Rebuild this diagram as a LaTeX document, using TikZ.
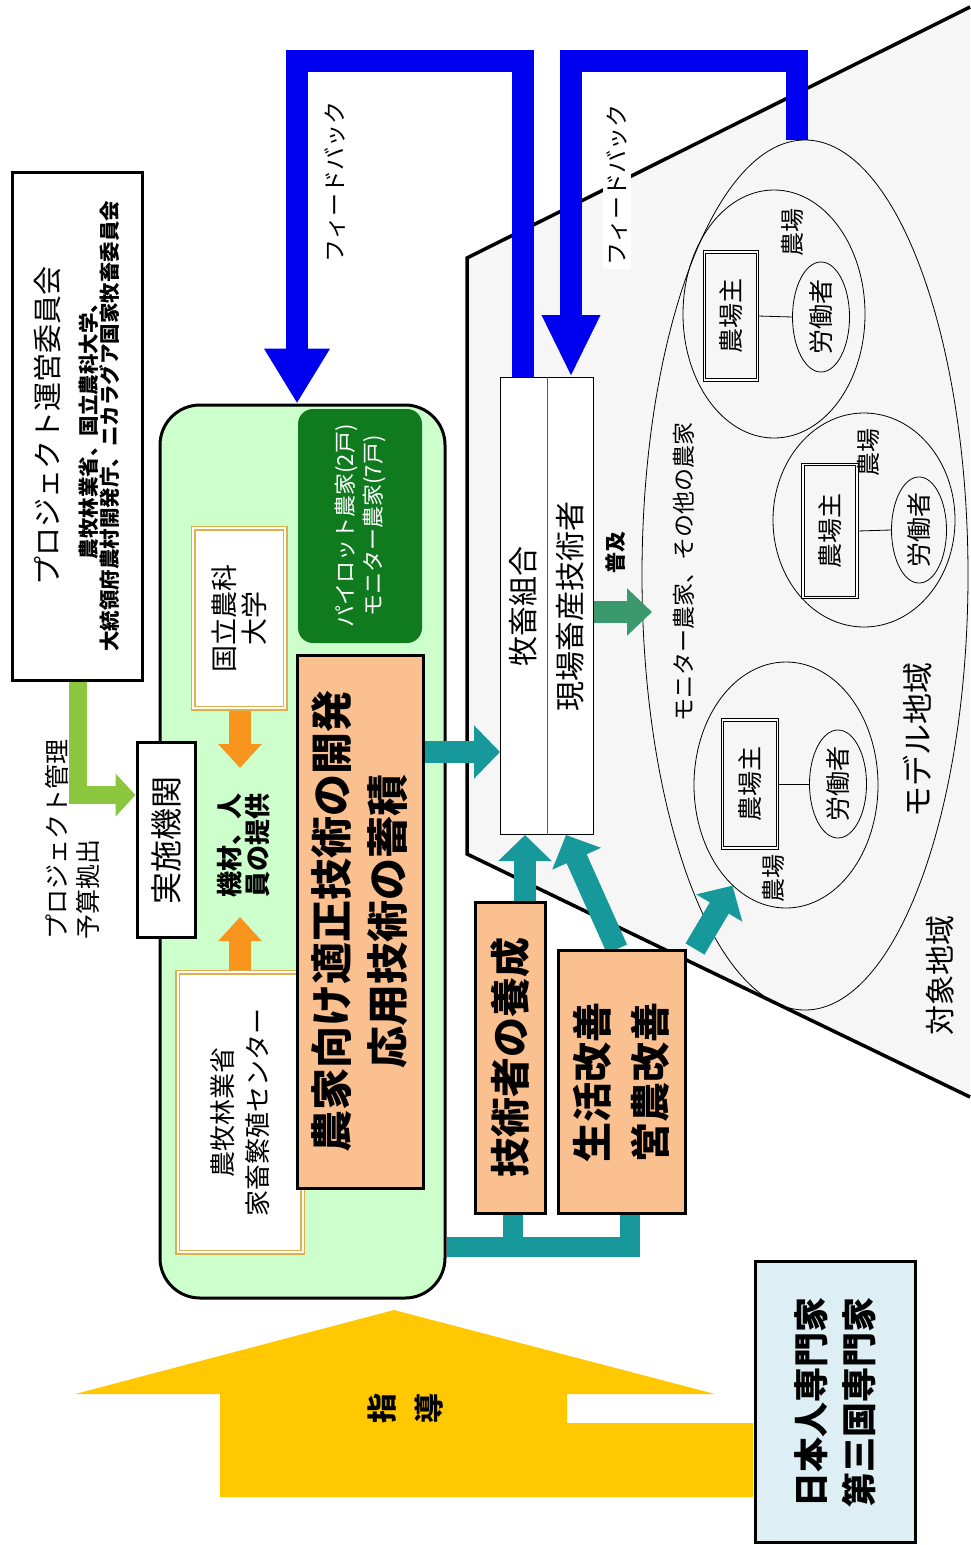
\documentclass[tikz,border=0pt]{standalone}
\usepackage{fontspec}
\setmainfont{Noto Sans CJK JP}
\usetikzlibrary{arrows.meta,shapes.geometric}
\definecolor{lgreen}{HTML}{CCFFCC}
\definecolor{dgreen}{HTML}{0F7A1E}
\definecolor{peach}{HTML}{FAC090}
\definecolor{tealc}{HTML}{17989A}
\definecolor{fgreen}{HTML}{3A9A6E}
\definecolor{fbblue}{HTML}{0000F0}
\definecolor{yel}{HTML}{FFC800}
\definecolor{lblue}{HTML}{DDEEF4}
\definecolor{ygreen}{HTML}{8CC63F}
\definecolor{orng}{HTML}{F7941D}
\definecolor{goldc}{HTML}{E3AE4A}
\newcommand\fsz[2]{\fontsize{#1}{#2}\selectfont}
\pgfdeclarelayer{back}
\pgfdeclarelayer{mid}
\pgfsetlayers{back,mid,main}
\tikzset{
 rbox/.style={rotate=90, draw=black, line width=3pt, align=center, inner sep=0pt},
 peachbox/.style={rbox, fill=peach},
 goldbox/.style={rotate=90, draw=goldc, double=white, double distance=2pt, line width=1.5pt, fill=white, align=center, inner sep=0pt},
 lbl/.style={rotate=90, align=center, inner sep=0pt},
 ell/.style={ellipse, draw=black, line width=0.8pt, inner sep=0pt},
 oyabox/.style={rotate=90, draw=black, double=white, double distance=1.6pt, line width=0.8pt, inner sep=0pt, font=\fsz{25}{28}},
 rodo/.style={ellipse, rotate=90, draw=black, line width=0.8pt, inner sep=0pt, font=\fsz{25}{28}},
 fbarrowA/.style={draw=fbblue, line width=22pt, line join=miter, -{Triangle[width=62pt,length=55pt]}},
 fbarrowB/.style={draw=fbblue, line width=22pt, line join=miter, -{Triangle[width=54pt,length=62pt]}},
 tarrow/.style={draw=tealc, line width=22pt, -{Triangle[width=52pt,length=26pt]}},
 tline/.style={draw=tealc, line width=20pt, line join=miter},
 oarrow/.style={draw=orng, line width=22pt, -{Triangle[width=42pt,length=24pt]}},
 garrow/.style={draw=ygreen, line width=18pt, line join=miter, -{Triangle[width=42pt,length=20pt]}},
 farrow/.style={draw=fgreen, line width=22pt, -{Triangle[width=46pt,length=25pt]}},
}
\begin{document}
\begin{tikzpicture}[x=1pt,y=-1pt]
\useasboundingbox (0,0) rectangle (970,1545);

\begin{pgfonlayer}{back}
\fill[gray!7] (970,7) -- (467,258) -- (467,854) -- (970,1097) -- cycle;
\draw[line width=3.5pt] (970,7) -- (467,258) -- (467,854) -- (970,1097);
\node[draw=black, line width=3pt, rounded corners=40pt, fill=lgreen, minimum width=285pt, minimum height=893pt, inner sep=0pt] (gbox) at (302.5,851.5) {};
\node[ell, minimum width=326pt, minimum height=870pt] (model) at (805,575) {};
\node[ell, minimum width=182pt, minimum height=248pt] (farm1) at (774,314) {};
\node[ell, minimum width=182pt, minimum height=214pt] (farm2) at (864,520) {};
\node[ell, minimum width=184pt, minimum height=246pt] (farm3) at (786,785) {};
\end{pgfonlayer}

% yellow guidance arrow
\fill[yel] (394,1310) -- (715,1394) -- (567,1394) -- (567,1423) -- (753,1423) -- (753,1497) -- (220,1497) -- (220,1394) -- (75,1394) -- cycle;
\node[lbl, font=\fsz{30}{47}\bfseries] (shido) at (406,1408) {指\\導};

% project committee
\node[rbox, minimum width=508pt, minimum height=130pt, font=\fsz{20.5}{21}\bfseries] (proj) at (77,426)
 {{\mdseries\fsz{29}{21}プロジェクト運営委員会}\\[17pt]農牧林業省、国立農科大学、\\大統領府農村開発庁、ニカラグア国家牧畜委員会};
\node[lbl, align=left, font=\fsz{25}{31}] (kanri) at (72,839) {プロジェクト管理\\予算拠出};
\node[rbox, fill=white, minimum width=195pt, minimum height=58pt, font=\fsz{32}{36}] (jisshi) at (166,840) {実施機関};

% inside green box
\node[goldbox, minimum width=180pt, minimum height=92pt, font=\fsz{27}{30}] (kokuritsu) at (239,618) {国立農科\\大学};
\node[lbl, font=\fsz{26}{28}\bfseries] (kizai) at (244,845) {機材、人\\員の提供};
\node[goldbox, minimum width=280pt, minimum height=125pt, font=\fsz{26}{35}] (nourin) at (240,1112) {農牧林業省\\家畜繁殖センター};
\node[rotate=90, fill=dgreen, rounded corners=15pt, minimum width=234pt, minimum height=124pt, inner sep=0pt, align=center, text=white, font=\fsz{22}{28}] (pilot) at (360,526) {パイロット農家(2戸)\\モニター農家(7戸)};
\node[peachbox, minimum width=533pt, minimum height=126pt, font=\fsz{42}{56}\bfseries] (kaihatsu) at (360,921.5) {農家向け適正技術の開発\\応用技術の蓄積};

% lower boxes
\node[peachbox, minimum width=311pt, minimum height=70pt, font=\fsz{40}{44}\bfseries] (gijutsu) at (510,1057.5) {技術者の養成};
\node[peachbox, minimum width=263pt, minimum height=127pt, font=\fsz{40}{58}\bfseries] (seikatsu) at (621.5,1082) {生活改善\\営農改善};

% livestock union box
\node[rbox, line width=1pt, fill=white, minimum width=457pt, minimum height=93pt, font=\fsz{30}{47}] (kumiai) at (547,606) {牧畜組合\\現場畜産技術者};
\draw[line width=0.8pt, gray!70!black] (kumiai.east) -- (kumiai.west);

% experts box
\node[rbox, fill=lblue, minimum width=281pt, minimum height=160pt, font=\fsz{35}{48}\bfseries] (expert) at (835,1402) {日本人専門家\\第三国専門家};

% labels
\node[lbl, fill=white, inner sep=4pt, font=\fsz{23}{26}] (fb1lbl) at (335,182) {フィードバック};
\node[lbl, fill=white, inner sep=4pt, font=\fsz{23}{26}] (fb2lbl) at (617,185) {フィードバック};
\node[lbl, font=\fsz{21}{24}\bfseries] (fukyu) at (615,552) {普及};
\node[lbl, font=\fsz{23}{26}] (monitor) at (684,572) {モニター農家、その他の農家};
\node[lbl, font=\fsz{31}{34}] (modelt) at (918,740) {モデル地域};
\node[lbl, font=\fsz{30}{34}] (taisho) at (940,975) {対象地域};

% farms
\node[oyabox, minimum width=128pt, minimum height=53pt] (oya1) at (731,316) {農場主};
\node[rodo, minimum width=110pt, minimum height=57pt] (rodo1) at (821,317) {労働者};
\node[lbl, font=\fsz{24}{26}] (nojo1) at (792,232) {農場};
\node[oyabox, minimum width=133pt, minimum height=54pt] (oya2) at (830,531) {農場主};
\node[rodo, minimum width=106pt, minimum height=55pt] (rodo2) at (919,530) {労働者};
\node[lbl, font=\fsz{24}{26}] (nojo2) at (868,452) {農場};
\node[oyabox, minimum width=128pt, minimum height=55pt] (oya3) at (750,784) {農場主};
\node[rodo, minimum width=108pt, minimum height=57pt] (rodo3) at (838,784) {労働者};
\node[lbl, font=\fsz{24}{26}] (nojo3) at (773,878) {農場};

% connector coordinates
\coordinate (fb1a) at (523,61);
\coordinate (fb2a) at (797,61);
\coordinate (gturn) at (78,795);
\coordinate (otip1) at (240,768);
\coordinate (otip2) at (240,917);
\coordinate (ftip) at (652,612);
\coordinate (jn) at (513,1247);

\begin{pgfonlayer}{mid}
\draw[fbarrowA] (523,0 |- kumiai.east) -- (fb1a) -| (297,0 |- gbox.north);
\draw[fbarrowB] (797,0 |- model.north) -- (fb2a) -| (571,0 |- kumiai.east);
\draw[garrow] (78,0 |- proj.west) -- (gturn) -- (jisshi.north |- gturn);
\draw[oarrow] (240,0 |- kokuritsu.west) -- (otip1);
\draw[oarrow] (240,0 |- nourin.east) -- (otip2);
\draw[tarrow] (kaihatsu.south |- 0,752) -- (kumiai.north |- 0,752);
\draw[tarrow] (525,0 |- gijutsu.east) -- (525,0 |- kumiai.west);
\draw[tarrow] (617,0 |- seikatsu.east) -- (566,0 |- kumiai.west);
\draw[tarrow] (695,0 |- seikatsu.east) -- (farm3.242);
\draw[farrow] (kumiai.south |- ftip) -- (ftip);
\draw[tline] (gbox.east |- jn) -| (630,0 |- seikatsu.west);
\draw[tline] (jn) -- (513,0 |- gijutsu.west);
\draw[line width=0.8pt] (oya1.south) -- (rodo1.north);
\draw[line width=0.8pt] (oya2.south) -- (rodo2.north);
\draw[line width=0.8pt] (oya3.south) -- (rodo3.north);
\end{pgfonlayer}
\end{tikzpicture}
\end{document}
